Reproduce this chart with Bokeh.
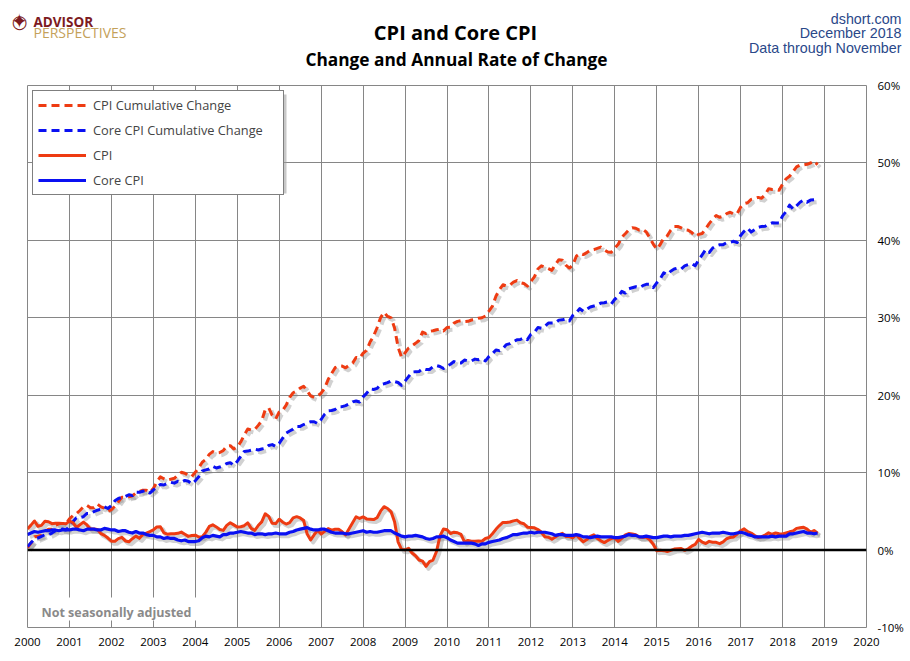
import numpy as np
from bokeh.plotting import figure
from bokeh.layouts import column
from bokeh.models import (Range1d, FixedTicker, PrintfTickFormatter, Span, Label,
                          Legend, LegendItem, BoxAnnotation, ColumnDataSource)
from bokeh.embed import file_html
from bokeh.resources import INLINE

# ---------------- data ----------------
# CPI-U, not seasonally adjusted, Jan 1999 .. Nov 2018
cpi_index = [
    164.3, 164.5, 165.0, 166.2, 166.2, 166.2, 166.7, 167.1, 167.9, 168.2, 168.3, 168.3,   # 1999
    168.8, 169.8, 171.2, 171.3, 171.5, 172.4, 172.8, 172.8, 173.7, 174.0, 174.1, 174.0,   # 2000
    175.1, 175.8, 176.2, 176.9, 177.7, 178.0, 177.5, 177.5, 178.3, 177.7, 177.4, 176.7,   # 2001
    177.1, 177.8, 178.8, 179.8, 179.8, 179.9, 180.1, 180.7, 181.0, 181.3, 181.3, 180.9,   # 2002
    181.7, 183.1, 184.2, 183.8, 183.5, 183.7, 183.9, 184.6, 185.2, 185.0, 184.5, 184.3,   # 2003
    185.2, 186.2, 187.4, 188.0, 189.1, 189.7, 189.4, 189.5, 189.9, 190.9, 191.0, 190.3,   # 2004
    190.7, 191.8, 193.3, 194.6, 194.4, 194.5, 195.4, 196.4, 198.8, 199.2, 197.6, 196.8,   # 2005
    198.3, 198.7, 199.8, 201.5, 202.5, 202.9, 203.5, 203.9, 202.9, 201.8, 201.5, 201.8,   # 2006
    202.416, 203.499, 205.352, 206.686, 207.949, 208.352, 208.299, 207.917, 208.490, 208.936, 210.177, 210.036,  # 2007
    211.080, 211.693, 213.528, 214.823, 216.632, 218.815, 219.964, 219.086, 218.783, 216.573, 212.425, 210.228,  # 2008
    211.143, 212.193, 212.709, 213.240, 213.856, 215.693, 215.351, 215.834, 215.969, 216.177, 216.330, 215.949,  # 2009
    216.687, 216.741, 217.631, 218.009, 218.178, 217.965, 218.011, 218.312, 218.439, 218.711, 218.803, 219.179,  # 2010
    220.223, 221.309, 223.467, 224.906, 225.964, 225.722, 225.922, 226.545, 226.889, 226.421, 226.230, 225.672,  # 2011
    226.665, 227.663, 229.392, 230.085, 229.815, 229.478, 229.104, 230.379, 231.407, 231.317, 230.221, 229.601,  # 2012
    230.280, 232.166, 232.773, 232.531, 232.945, 233.504, 233.596, 233.877, 234.149, 233.546, 233.069, 233.049,  # 2013
    233.916, 234.781, 236.293, 237.072, 237.900, 238.343, 238.250, 237.852, 238.031, 237.433, 236.151, 234.812,  # 2014
    233.707, 234.722, 236.119, 236.599, 237.805, 238.638, 238.654, 238.316, 237.945, 237.838, 237.336, 236.525,  # 2015
    236.916, 237.111, 238.132, 239.261, 240.229, 241.018, 240.628, 240.849, 241.428, 241.729, 241.353, 241.432,  # 2016
    242.839, 243.603, 243.801, 244.524, 244.733, 244.955, 244.786, 245.519, 246.819, 246.663, 246.669, 246.524,  # 2017
    247.867, 248.991, 249.554, 250.546, 251.588, 251.989, 252.006, 252.146, 252.439, 252.885, 252.038,           # 2018
]

# Core CPI (less food & energy), NSA level in 1999 and year-over-year % change Jan 2000 .. Nov 2018
core_index_1999 = [175.6, 176.1, 176.6, 177.0, 177.2, 177.4, 177.4, 177.6, 178.1, 178.5, 178.5, 178.3]
core_yoy = [
    2.0, 2.2, 2.4, 2.3, 2.4, 2.5, 2.5, 2.6, 2.6, 2.5, 2.6, 2.6,   # 2000
    2.6, 2.7, 2.7, 2.6, 2.5, 2.7, 2.7, 2.7, 2.6, 2.6, 2.8, 2.7,   # 2001
    2.6, 2.6, 2.4, 2.5, 2.5, 2.3, 2.2, 2.4, 2.2, 2.2, 2.0, 1.9,   # 2002
    1.9, 1.7, 1.7, 1.5, 1.6, 1.5, 1.5, 1.3, 1.2, 1.3, 1.1, 1.1,   # 2003
    1.1, 1.2, 1.6, 1.8, 1.7, 1.9, 1.8, 1.7, 2.0, 2.0, 2.2, 2.2,   # 2004
    2.3, 2.4, 2.3, 2.2, 2.2, 2.0, 2.1, 2.1, 2.0, 2.1, 2.1, 2.2,   # 2005
    2.1, 2.1, 2.1, 2.3, 2.4, 2.6, 2.7, 2.8, 2.9, 2.7, 2.6, 2.6,   # 2006
    2.7, 2.7, 2.5, 2.3, 2.2, 2.2, 2.2, 2.1, 2.1, 2.2, 2.3, 2.4,   # 2007
    2.5, 2.3, 2.4, 2.3, 2.3, 2.4, 2.5, 2.5, 2.5, 2.2, 2.0, 1.8,   # 2008
    1.7, 1.8, 1.8, 1.9, 1.8, 1.7, 1.5, 1.4, 1.5, 1.7, 1.7, 1.8,   # 2009
    1.6, 1.3, 1.1, 0.9, 0.9, 0.9, 0.9, 0.9, 0.8, 0.6, 0.8, 0.8,   # 2010
    1.0, 1.1, 1.2, 1.3, 1.5, 1.6, 1.8, 2.0, 2.0, 2.1, 2.2, 2.2,   # 2011
    2.3, 2.2, 2.3, 2.3, 2.3, 2.2, 2.1, 1.9, 2.0, 2.0, 1.9, 1.9,   # 2012
    1.9, 2.0, 1.9, 1.7, 1.7, 1.6, 1.7, 1.8, 1.7, 1.7, 1.7, 1.7,   # 2013
    1.6, 1.6, 1.7, 1.8, 2.0, 1.9, 1.9, 1.7, 1.7, 1.8, 1.7, 1.6,   # 2014
    1.6, 1.7, 1.8, 1.8, 1.7, 1.8, 1.8, 1.8, 1.9, 1.9, 2.0, 2.1,   # 2015
    2.2, 2.3, 2.2, 2.1, 2.2, 2.2, 2.2, 2.3, 2.2, 2.1, 2.1, 2.2,   # 2016
    2.3, 2.2, 2.0, 1.9, 1.7, 1.7, 1.7, 1.7, 1.7, 1.8, 1.7, 1.8,   # 2017
    1.8, 1.8, 2.1, 2.1, 2.2, 2.3, 2.4, 2.2, 2.2, 2.1, 2.2,        # 2018
]

x_ticks = list(range(2000, 2021))
y_ticks = [-10, 0, 10, 20, 30, 40, 50, 60]

legend_labels = ["CPI Cumulative Change", "Core CPI Cumulative Change", "CPI", "Core CPI"]
title_text = "CPI and Core CPI"
subtitle_text = "Change and Annual Rate of Change"
header_lines = ["dshort.com", "December 2018", "Data through November"]
note_text = "Not seasonally adjusted"
logo_top = "ADVISOR"
logo_bottom = "PERSPECTIVES"

# ---------------- derived series ----------------
cpi = np.array(cpi_index)
cpi_yoy = (cpi[12:] / cpi[:-12] - 1) * 100
cpi_cum = (cpi[12:] / cpi[11] - 1) * 100

core = list(core_index_1999)
for i, r in enumerate(core_yoy):
    core.append(core[i] * (1 + r / 100))
core = np.array(core)
core_cum = (core[12:] / core[11] - 1) * 100
core_yoy_arr = np.array(core_yoy)

n = len(cpi_yoy)
months = 2000 + np.arange(n) / 12.0

src = ColumnDataSource(dict(x=months, cpi_cum=cpi_cum, core_cum=core_cum,
                            cpi_yoy=cpi_yoy, core_yoy=core_yoy_arr))
# soft drop-shadow copy, nudged right/down
sh = ColumnDataSource(dict(x=months + 0.06, cpi_cum=cpi_cum - 0.32, core_cum=core_cum - 0.32,
                           cpi_yoy=cpi_yoy - 0.32, core_yoy=core_yoy_arr - 0.32))

RED = "#EE3B12"
BLUE = "#0A10F2"
GRID = "#868686"
FONT = "Open Sans"
W = 910
H = 661
HEAD_H = 78
OVERLAP = 4                       # main chart's top edge tucks under the header strip
MAIN_TOP = HEAD_H - OVERLAP       # page y where the main canvas starts
TOP_GAP = 85 - MAIN_TOP

# ---------------- header strip (pixel coordinates, y down) ----------------
head = figure(width=W, height=HEAD_H, output_backend="svg", toolbar_location=None,
              x_range=Range1d(0, W), y_range=Range1d(HEAD_H, 0),
              x_axis_type=None, y_axis_type=None,
              min_border=0, min_border_left=0, min_border_right=0,
              min_border_top=0, min_border_bottom=0)
head.styles = {"position": "relative", "z-index": "5"}
head.outline_line_color = None
head.background_fill_color = "white"
head.border_fill_color = "white"

head.add_layout(Label(x=455, y=31.5, text=title_text, text_font=FONT, text_font_size="20px",
                      text_font_style="bold", text_align="center", text_baseline="alphabetic",
                      text_color="black"))
head.add_layout(Label(x=456, y=58.5, text=subtitle_text, text_font=FONT, text_font_size="17.3px",
                      text_font_style="bold", text_align="center", text_baseline="alphabetic",
                      text_color="black"))
for i, t in enumerate(header_lines):
    head.add_layout(Label(x=901, y=18.5 + 14.3 * i, text=t, text_font="Liberation Sans",
                          text_font_size="14.3px", text_align="right", text_baseline="alphabetic",
                          text_color="#2A4889"))
# logo
head.add_layout(Label(x=19, y=20.5, text="\u25CB", text_font="DejaVu Sans", text_font_size="18px",
                      text_align="center", text_baseline="middle", text_color="#7D1A21"))
head.add_layout(Label(x=19, y=20.5, text="\u2726", text_font="DejaVu Sans", text_font_size="20px",
                      text_align="center", text_baseline="middle", text_color="#7D1A21"))
head.add_layout(Label(x=33, y=21, text=logo_top, text_font=FONT, text_font_size="13.5px",
                      text_font_style="bold", text_baseline="alphabetic", text_color="#7D1A21"))
head.add_layout(Label(x=33, y=32, text=logo_bottom, text_font=FONT, text_font_size="14px",
                      text_baseline="alphabetic", text_color="#C4A15A"))

# ---------------- main chart ----------------
p = figure(width=W, height=H - MAIN_TOP, output_backend="svg", toolbar_location=None,
           x_range=Range1d(2000, 2020), y_range=Range1d(-10, 60),
           y_axis_location="right",
           min_border_left=27, min_border_right=44, min_border_top=TOP_GAP, min_border_bottom=34)
p.styles = {"margin-top": f"-{OVERLAP}px", "position": "relative", "z-index": "1"}
p.background_fill_color = "white"
p.border_fill_color = "white"
p.outline_line_color = GRID
p.outline_line_width = 1

for fig in (head, p):
    if "frame_align" in fig.properties():
        fig.frame_align = False

for ax in (p.xaxis[0], p.yaxis[0]):
    ax.axis_line_color = None
    ax.major_tick_line_color = None
    ax.minor_tick_line_color = None
    ax.major_tick_out = 0
    ax.major_tick_in = 0
    ax.major_label_text_font = FONT
    ax.major_label_text_font_size = "11.5px"
    ax.major_label_text_color = "black"

p.xaxis[0].ticker = FixedTicker(ticks=x_ticks)
p.xaxis[0].major_label_standoff = 10
p.yaxis[0].ticker = FixedTicker(ticks=y_ticks)
p.yaxis[0].formatter = PrintfTickFormatter(format="%d%%")
p.yaxis[0].major_label_standoff = 11

p.xgrid[0].ticker = FixedTicker(ticks=x_ticks)
p.ygrid[0].ticker = FixedTicker(ticks=y_ticks)
for g in (p.xgrid[0], p.ygrid[0]):
    g.grid_line_color = GRID
    g.grid_line_width = 1

# shadows
for col, dash in (("cpi_cum", "8 5"), ("core_cum", "8 5"), ("cpi_yoy", "solid"), ("core_yoy", "solid")):
    p.line("x", col, source=sh, line_color="#7a7a7a", line_alpha=0.35, line_width=4,
           line_dash=dash, line_join="round")

p.add_layout(Span(location=0, dimension="width", line_color="black", line_width=2.5))

r_cpi_cum = p.line("x", "cpi_cum", source=src, line_color=RED, line_width=3, line_dash="8 5", line_join="round")
r_core_cum = p.line("x", "core_cum", source=src, line_color=BLUE, line_width=3, line_dash="8 5", line_join="round")
r_cpi = p.line("x", "cpi_yoy", source=src, line_color=RED, line_width=3, line_join="round")
r_core = p.line("x", "core_yoy", source=src, line_color=BLUE, line_width=3.2, line_join="round")

# white patch behind the note, and the note
p.add_layout(BoxAnnotation(left=9, right=172, bottom=7, top=30,
                           left_units="screen", right_units="screen",
                           bottom_units="screen", top_units="screen",
                           fill_color="white", fill_alpha=1, line_color=None))
p.add_layout(Label(x=14, y=15, x_units="screen", y_units="screen", text=note_text,
                   text_font=FONT, text_font_size="12.5px", text_font_style="bold",
                   text_color="#8a8a8a", text_baseline="alphabetic"))

# legend shadow + legend
p.add_layout(BoxAnnotation(left=9, right=259, bottom=434, top=533,
                           left_units="screen", right_units="screen",
                           bottom_units="screen", top_units="screen",
                           fill_color="#9a9a9a", fill_alpha=0.55, line_color=None))
legend = Legend(items=[LegendItem(label=legend_labels[0], renderers=[r_cpi_cum]),
                       LegendItem(label=legend_labels[1], renderers=[r_core_cum]),
                       LegendItem(label=legend_labels[2], renderers=[r_cpi]),
                       LegendItem(label=legend_labels[3], renderers=[r_core])],
                location="top_left", margin=5, padding=5, spacing=7,
                glyph_width=48, glyph_height=16, label_height=16, label_width=185,
                label_standoff=7, label_text_font=FONT, label_text_font_size="12.8px",
                border_line_color="black", border_line_width=1,
                background_fill_color="white", background_fill_alpha=1)
p.add_layout(legend)

page = column(head, p, spacing=0, width=W, height=H)

open("out.html", "w").write(file_html(page, INLINE))
